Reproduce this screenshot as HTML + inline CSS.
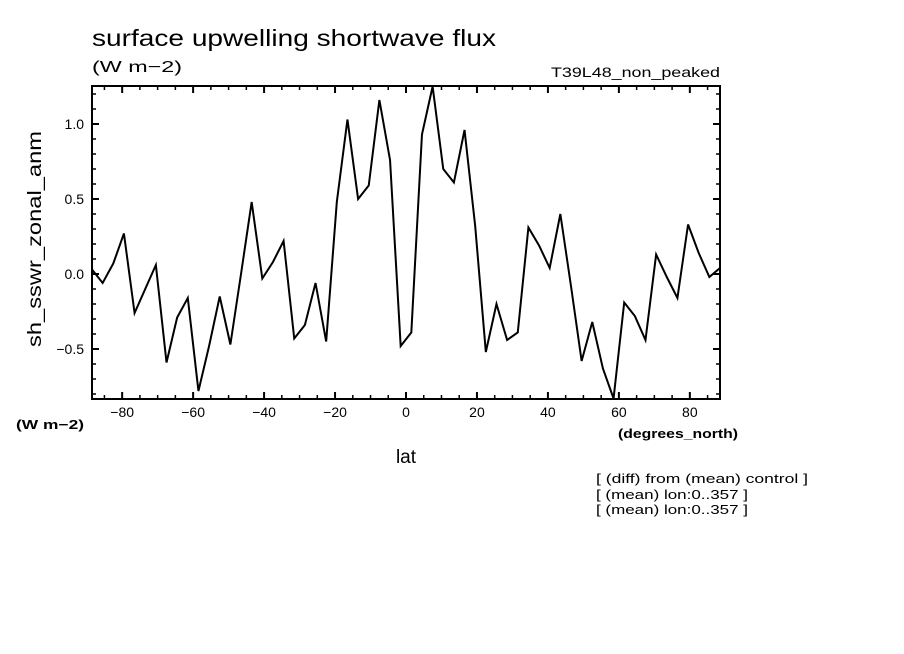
<!DOCTYPE html>
<html><head><meta charset="utf-8">
<style>
html,body{margin:0;padding:0;background:#fff;}
svg{display:block;font-family:"Liberation Sans",sans-serif;}
</style></head>
<body>
<svg id="chart" width="904" height="654" viewBox="0 0 904 654" xmlns="http://www.w3.org/2000/svg">
<rect x="0" y="0" width="904" height="654" fill="#fff"/>
<text x="92" y="46" font-size="23" textLength="404" lengthAdjust="spacingAndGlyphs">surface upwelling shortwave flux</text>
<text x="92" y="72" font-size="16" textLength="90" lengthAdjust="spacingAndGlyphs">(W m−2)</text>
<text x="720" y="77" font-size="14" text-anchor="end" textLength="169" lengthAdjust="spacingAndGlyphs">T39L48_non_peaked</text>
<text x="0" y="0" font-size="19" text-anchor="middle" transform="translate(41,239) rotate(-90)" textLength="216" lengthAdjust="spacingAndGlyphs">sh_sswr_zonal_anm</text>
<text x="16" y="429" font-size="13" font-weight="bold" textLength="68" lengthAdjust="spacingAndGlyphs">(W m−2)</text>
<text x="618" y="438" font-size="13" font-weight="bold" textLength="120" lengthAdjust="spacingAndGlyphs">(degrees_north)</text>
<text x="406" y="463" font-size="19" text-anchor="middle">lat</text>
<text x="596" y="483" font-size="12.5" textLength="212" lengthAdjust="spacingAndGlyphs">[ (diff) from (mean) control ]</text>
<text x="596" y="499" font-size="12.5" textLength="152" lengthAdjust="spacingAndGlyphs">[ (mean) lon:0..357 ]</text>
<text x="596" y="514" font-size="12.5" textLength="152" lengthAdjust="spacingAndGlyphs">[ (mean) lon:0..357 ]</text>
<g id="ticks"></g>
<g id="series"></g>
<rect x="92" y="86" width="628" height="313" fill="none" stroke="#000" stroke-width="2"/>
</svg>
<script>
const lats = [];
for (let i = 0; i < 60; i++) lats.push(-88.5 + 3 * i);
const values = [0.03,-0.06,0.07,0.27,-0.26,-0.10,0.06,-0.59,-0.29,-0.16,
-0.78,-0.48,-0.15,-0.47,0.00,0.48,-0.03,0.08,0.22,-0.43,
-0.34,-0.06,-0.45,0.48,1.03,0.50,0.59,1.16,0.76,-0.48,
-0.39,0.93,1.25,0.70,0.61,0.96,0.32,-0.52,-0.20,-0.44,
-0.39,0.31,0.19,0.04,0.40,-0.08,-0.58,-0.32,-0.63,-0.83,
-0.19,-0.28,-0.44,0.13,-0.02,-0.16,0.33,0.14,-0.02,0.04];
const xTickLabels = ["-80","-60","-40","-20","0","20","40","60","80"];
const yTickLabels = ["-0.5","0.0","0.5","1.0"];
const X0=92,X1=720,Y0=86,Y1=399,XMIN=-88.5,XMAX=88.5,YMIN=-0.8333,YMAX=1.2533;
const sx=v=>X0+(v-XMIN)/(XMAX-XMIN)*(X1-X0);
const sy=v=>Y1-(v-YMIN)/(YMAX-YMIN)*(Y1-Y0);
const NS="http://www.w3.org/2000/svg";
const tg=document.getElementById('ticks');
function ln(x1,y1,x2,y2,w){const l=document.createElementNS(NS,'line');l.setAttribute('x1',x1);l.setAttribute('y1',y1);l.setAttribute('x2',x2);l.setAttribute('y2',y2);l.setAttribute('stroke','#000');l.setAttribute('stroke-width',w);


tg.appendChild(l);}
for(let d=-85;d<=85;d+=5){const x=sx(d);const major=d%20===0;const L=major?7:4;ln(x,Y1,x,Y1-L,major?2:1.5);ln(x,Y0,x,Y0+L,major?2:1.5);}
for(let k=-8;k<=12;k++){const v=k/10;const y=sy(v);const major=k%5===0;const L=major?7:4;ln(X0,y,X0+L,y,major?2:1.5);ln(X1,y,X1-L,y,major?2:1.5);}
xTickLabels.forEach(s=>{const t=document.createElementNS(NS,'text');t.setAttribute('x',sx(parseFloat(s)));t.setAttribute('y',417);t.setAttribute('font-size','14');t.setAttribute('text-anchor','middle');t.textContent=s.replace('-','−');


tg.appendChild(t);});
yTickLabels.forEach(s=>{const t=document.createElementNS(NS,'text');t.setAttribute('x',84);t.setAttribute('y',sy(parseFloat(s))+5);t.setAttribute('font-size','14');t.setAttribute('text-anchor','end');t.textContent=s.replace('-','−');


tg.appendChild(t);});
const p=document.createElementNS(NS,'polyline');
p.setAttribute('points',lats.map((d,i)=>sx(d)+','+sy(values[i])).join(' '));
p.setAttribute('fill','none');p.setAttribute('stroke','#000');p.setAttribute('stroke-width','2');p.setAttribute('stroke-linejoin','miter');


document.getElementById('series').appendChild(p);
</script>
</body></html>
